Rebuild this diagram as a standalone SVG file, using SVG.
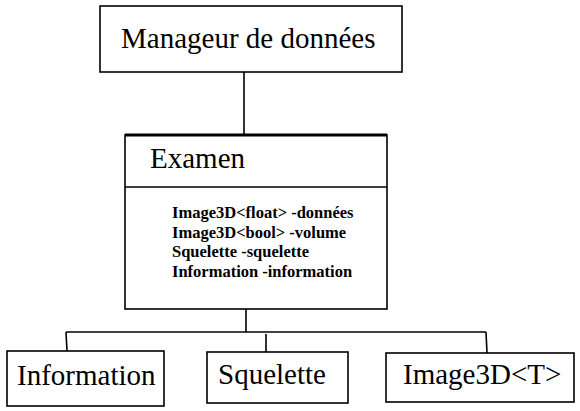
<svg xmlns="http://www.w3.org/2000/svg" width="580" height="411" viewBox="0 0 580 411">
<style>
.box{fill:#fff;stroke:#000;stroke-width:1.6}
.big{font-family:"Liberation Serif","Times New Roman",serif;font-size:29px;fill:#000}
.small{font-family:"Liberation Serif","Times New Roman",serif;font-size:16.5px;font-weight:bold;fill:#000}
.conn line{stroke:#000;stroke-width:1.6}
</style>
<rect width="580" height="411" fill="#fff"/>
<g class="conn" id="connectors">
<line x1="244" y1="72" x2="244" y2="135"/>
<line x1="246" y1="309" x2="246" y2="332"/>
<line x1="66" y1="332" x2="486" y2="332"/>
<line x1="66" y1="332" x2="67" y2="351"/>
<line x1="266" y1="334" x2="266" y2="352"/>
<line x1="486" y1="332" x2="487" y2="353"/>
</g>
<g id="manageur">
<rect class="box" x="100" y="6" width="302" height="66"/>
<text class="big" x="121" y="48">Manageur de données</text>
</g>
<g id="examen">
<rect class="box" x="125" y="135" width="262" height="174"/>
<line x1="125" y1="135" x2="387" y2="135" stroke="#000" stroke-width="3"/>
<line x1="125" y1="187" x2="387" y2="187" stroke="#000" stroke-width="1.6"/>
<text class="big" x="150" y="168">Examen</text>
<text class="small" x="172" y="218">Image3D&lt;float&gt; -données</text>
<text class="small" x="172" y="238">Image3D&lt;bool&gt; -volume</text>
<text class="small" x="172" y="257">Squelette -squelette</text>
<text class="small" x="172" y="277">Information -information</text>
</g>
<g id="information">
<rect class="box" x="7" y="351" width="157" height="55"/>
<text class="big" x="17" y="385">Information</text>
</g>
<g id="squelette">
<rect class="box" x="207" y="352" width="141" height="51"/>
<text class="big" x="218" y="384">Squelette</text>
</g>
<g id="image3d">
<rect class="box" x="386" y="353" width="188" height="49"/>
<text class="big" x="403" y="384">Image3D&lt;T&gt;</text>
</g>
</svg>
